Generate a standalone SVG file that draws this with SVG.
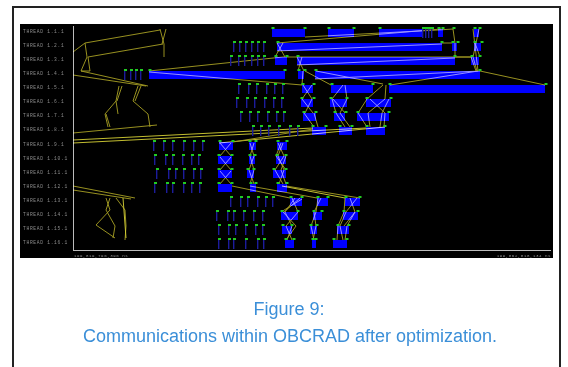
<svg xmlns="http://www.w3.org/2000/svg" width="568" height="367" viewBox="0 0 568 367">
<style>
.bar{fill:#0000ff}
.lbl{font-family:"Liberation Mono","DejaVu Sans Mono",monospace;font-size:4.6px;fill:#8e8e8e;letter-spacing:0.7px}
.tm{font-family:"Liberation Mono","DejaVu Sans Mono",monospace;font-size:4.2px;fill:#8e8e8e;letter-spacing:0.5px}
.msg{fill:none;stroke:#a8a024;stroke-width:0.9;mix-blend-mode:screen}
.hi{stroke:#d8d236}
.cap{font-family:"Liberation Sans",Arial,sans-serif;font-size:18px;fill:#3b8fd8;text-anchor:middle}
</style>
<defs>
<g id="idle"><rect x="0" y="-2" width="3" height="2" fill="#22cc22"/><rect x="0" y="0" width="1.4" height="9" fill="#1c1c9c"/></g>
<rect id="f" x="-0.5" y="-2" width="3" height="2" fill="#22cc22"/>
</defs>
<rect x="0" y="0" width="568" height="367" fill="#ffffff"/>
<path d="M13,367 V7 H560 V367" fill="none" stroke="#222" stroke-width="2"/>
<rect x="20" y="24" width="533" height="234" fill="#000"/>
<g id="axes" stroke="#bbbbbb" stroke-width="1">
<line x1="73.5" y1="26" x2="73.5" y2="251"/>
<line x1="73" y1="250.5" x2="551" y2="250.5"/>
</g>
<g id="labels">
<text class="lbl" x="23" y="32.5">THREAD 1.1.1</text>
<text class="lbl" x="23" y="46.5">THREAD 1.2.1</text>
<text class="lbl" x="23" y="60.5">THREAD 1.3.1</text>
<text class="lbl" x="23" y="74.5">THREAD 1.4.1</text>
<text class="lbl" x="23" y="88.5">THREAD 1.5.1</text>
<text class="lbl" x="23" y="102.5">THREAD 1.6.1</text>
<text class="lbl" x="23" y="116.5">THREAD 1.7.1</text>
<text class="lbl" x="23" y="130.5">THREAD 1.8.1</text>
<text class="lbl" x="23" y="145.5">THREAD 1.9.1</text>
<text class="lbl" x="23" y="159.5">THREAD 1.10.1</text>
<text class="lbl" x="23" y="173.5">THREAD 1.11.1</text>
<text class="lbl" x="23" y="187.5">THREAD 1.12.1</text>
<text class="lbl" x="23" y="201.5">THREAD 1.13.1</text>
<text class="lbl" x="23" y="215.5">THREAD 1.14.1</text>
<text class="lbl" x="23" y="229.5">THREAD 1.15.1</text>
<text class="lbl" x="23" y="243.5">THREAD 1.16.1</text>
<text class="tm" x="74" y="256.5">199,819,796,396 ns</text>
<text class="tm" x="551" y="256.5" text-anchor="end">199,862,818,134 ns</text>
</g>
<g id="bars">
<rect class="bar" x="272" y="29" width="33" height="8"/><rect class="bar" x="328" y="29" width="26" height="8"/><rect class="bar" x="379" y="29" width="43" height="8"/><rect class="bar" x="438" y="29" width="5" height="8"/><rect class="bar" x="474" y="29" width="5" height="8"/>
<rect class="bar" x="277" y="43" width="165" height="8"/><rect class="bar" x="452" y="43" width="5" height="8"/><rect class="bar" x="474" y="43" width="7" height="8"/>
<rect class="bar" x="275" y="57" width="12" height="8"/><rect class="bar" x="297" y="57" width="158" height="8"/><rect class="bar" x="471" y="57" width="8" height="8"/>
<rect class="bar" x="149" y="71" width="136" height="8"/><rect class="bar" x="298" y="71" width="6" height="8"/><rect class="bar" x="315" y="71" width="165" height="8"/>
<rect class="bar" x="302" y="85" width="11" height="8"/><rect class="bar" x="331" y="85" width="42" height="8"/><rect class="bar" x="389" y="85" width="156" height="8"/>
<rect class="bar" x="301" y="99" width="12" height="8"/><rect class="bar" x="330" y="99" width="17" height="8"/><rect class="bar" x="366" y="99" width="25" height="8"/>
<rect class="bar" x="303" y="113" width="13" height="8"/><rect class="bar" x="334" y="113" width="11" height="8"/><rect class="bar" x="357" y="113" width="32" height="8"/>
<rect class="bar" x="312" y="127" width="14" height="8"/><rect class="bar" x="339" y="127" width="13" height="8"/><rect class="bar" x="366" y="127" width="19" height="8"/>
<rect class="bar" x="219" y="142" width="14" height="8"/><rect class="bar" x="249" y="142" width="7" height="8"/><rect class="bar" x="277" y="142" width="10" height="8"/>
<rect class="bar" x="218" y="156" width="14" height="8"/><rect class="bar" x="249" y="156" width="6" height="8"/><rect class="bar" x="276" y="156" width="10" height="8"/>
<rect class="bar" x="218" y="170" width="14" height="8"/><rect class="bar" x="247" y="170" width="7" height="8"/><rect class="bar" x="273" y="170" width="13" height="8"/>
<rect class="bar" x="218" y="184" width="14" height="8"/><rect class="bar" x="250" y="184" width="6" height="8"/><rect class="bar" x="277" y="184" width="10" height="8"/>
<rect class="bar" x="290" y="198" width="12" height="8"/><rect class="bar" x="317" y="198" width="11" height="8"/><rect class="bar" x="345" y="198" width="15" height="8"/>
<rect class="bar" x="281" y="212" width="17" height="8"/><rect class="bar" x="313" y="212" width="9" height="8"/><rect class="bar" x="343" y="212" width="15" height="8"/>
<rect class="bar" x="282" y="226" width="10" height="8"/><rect class="bar" x="310" y="226" width="7" height="8"/><rect class="bar" x="337" y="226" width="12" height="8"/>
<rect class="bar" x="285" y="240" width="9" height="8"/><rect class="bar" x="312" y="240" width="4" height="8"/><rect class="bar" x="333" y="240" width="14" height="8"/>
</g>
<g id="connectors" class="msg">
<path d="M73,52 L85,43 L160,30 M85,43 L87,57 M88,57 L163,44 M160,29 L164,44 L164,57 M166,29 L162,44 M87,57 L81,71 L90,71 L88,57 M81,71 L148,86 M73,75 L146,86"/>
<path d="M119,86 L116,101 L118,114 M122,86 L117,101 M116,101 L105,114 L108,127 M106,114 L110,127 M138,86 L133,101 L148,114 L150,127 M141,86 L135,101 M73,133 L157,125"/>
<path class="hi" d="M73,140 L313,128 M73,143 L366,128 M219,143 L385,127"/>
<path d="M149,71 L283,57 M149,72 L302,85 M277,43 L441,29 M283,57 L471,57 M305,37 L438,30 M277,51 L442,44 M297,65 L455,58 M315,79 L480,71 M390,85 L478,71 M480,71 L545,85"/>
<path d="M277,43 L285,57 M283,43 L275,57 M297,57 L304,71 M302,57 L298,71 M303,71 L302,85 M305,71 L331,85 M316,71 L383,84 M303,85 L312,99 M312,85 L302,99 M302,99 L313,113 M312,99 L305,113 M304,113 L314,127 M314,113 L318,127"/>
<path d="M343,85 L332,99 L336,113 L345,127 M345,85 L347,99 L340,113 L350,127 M333,99 L345,113 M386,85 L385,99 L368,113 L370,127 M383,85 L367,99 L358,113 L367,127 M389,99 L382,113 L380,127 M370,99 L385,113 L384,127"/>
<path d="M438,30 L453,29 L455,43 L455,57 L472,57 M442,43 L452,43 M473,29 L478,71 M479,29 L473,57 L477,71 M475,43 L480,57 M471,57 L476,71"/>
<path d="M220,143 L231,156 M231,143 L220,156 M220,157 L231,170 M231,157 L220,170 M220,171 L231,184 M231,171 L220,184 M250,143 L254,156 L249,170 L254,184 M254,143 L250,156 L254,170 L250,184 M278,143 L284,156 L275,170 L283,184 M283,143 L278,156 L284,170 L279,184 M281,143 L276,156 L286,170 M286,156 L281,170 L286,184 M233,142 L313,129"/>
<path d="M232,186 L290,198 M250,186 L317,198 M286,186 L360,198 M73,186 L135,198 M73,190 L131,199"/>
<path class="hi" d="M282,186 L345,198"/>
<path d="M106,198 L110,210 L96,225 L115,238 M110,198 L106,210 L115,226 L113,238 M116,198 L125,210 L126,226 L125,240"/>
<path class="hi" d="M123,198 L124,211 L126,238"/>
<path d="M300,198 L284,212 M292,198 L298,212 L286,226 L292,240 M295,198 L285,212 L292,226 L287,240 M283,212 L296,226 L286,240 M281,212 L302,199 M318,198 L316,212 L311,226 L314,240 M321,198 L314,212 L316,226 L313,240 M345,198 L344,212 L338,226 L337,240 M357,198 L346,212 L340,226 L343,240 M350,198 L355,212 L347,226 L345,240 M355,212 L344,226"/>
</g>
<g id="idle-markers">
<use href="#idle" x="422" y="29"/><use href="#idle" x="425" y="29"/><use href="#idle" x="428" y="29"/><use href="#idle" x="431" y="29"/>
<use href="#idle" x="233" y="43"/><use href="#idle" x="239" y="43"/><use href="#idle" x="245" y="43"/><use href="#idle" x="251" y="43"/><use href="#idle" x="257" y="43"/><use href="#idle" x="263" y="43"/>
<use href="#idle" x="230" y="57"/><use href="#idle" x="238" y="57"/><use href="#idle" x="244" y="57"/><use href="#idle" x="251" y="57"/><use href="#idle" x="257" y="57"/><use href="#idle" x="263" y="57"/>
<use href="#idle" x="124" y="71"/><use href="#idle" x="130" y="71"/><use href="#idle" x="135" y="71"/><use href="#idle" x="140" y="71"/>
<use href="#idle" x="238" y="85"/><use href="#idle" x="248" y="85"/><use href="#idle" x="256" y="85"/><use href="#idle" x="266" y="85"/><use href="#idle" x="274" y="85"/><use href="#idle" x="282" y="85"/>
<use href="#idle" x="236" y="99"/><use href="#idle" x="246" y="99"/><use href="#idle" x="254" y="99"/><use href="#idle" x="264" y="99"/><use href="#idle" x="273" y="99"/><use href="#idle" x="281" y="99"/>
<use href="#idle" x="240" y="113"/><use href="#idle" x="249" y="113"/><use href="#idle" x="257" y="113"/><use href="#idle" x="267" y="113"/><use href="#idle" x="276" y="113"/><use href="#idle" x="283" y="113"/>
<use href="#idle" x="252" y="127"/><use href="#idle" x="260" y="127"/><use href="#idle" x="268" y="127"/><use href="#idle" x="278" y="127"/><use href="#idle" x="289" y="127"/><use href="#idle" x="297" y="127"/>
<use href="#idle" x="153" y="142"/><use href="#idle" x="163" y="142"/><use href="#idle" x="172" y="142"/><use href="#idle" x="183" y="142"/><use href="#idle" x="193" y="142"/><use href="#idle" x="202" y="142"/>
<use href="#idle" x="154" y="156"/><use href="#idle" x="165" y="156"/><use href="#idle" x="172" y="156"/><use href="#idle" x="182" y="156"/><use href="#idle" x="191" y="156"/><use href="#idle" x="198" y="156"/>
<use href="#idle" x="156" y="170"/><use href="#idle" x="168" y="170"/><use href="#idle" x="175" y="170"/><use href="#idle" x="183" y="170"/><use href="#idle" x="193" y="170"/><use href="#idle" x="200" y="170"/>
<use href="#idle" x="154" y="184"/><use href="#idle" x="166" y="184"/><use href="#idle" x="172" y="184"/><use href="#idle" x="183" y="184"/><use href="#idle" x="191" y="184"/><use href="#idle" x="199" y="184"/>
<use href="#idle" x="230" y="198"/><use href="#idle" x="240" y="198"/><use href="#idle" x="247" y="198"/><use href="#idle" x="257" y="198"/><use href="#idle" x="265" y="198"/><use href="#idle" x="272" y="198"/>
<use href="#idle" x="216" y="212"/><use href="#idle" x="227" y="212"/><use href="#idle" x="233" y="212"/><use href="#idle" x="243" y="212"/><use href="#idle" x="253" y="212"/><use href="#idle" x="262" y="212"/>
<use href="#idle" x="218" y="226"/><use href="#idle" x="228" y="226"/><use href="#idle" x="235" y="226"/><use href="#idle" x="245" y="226"/><use href="#idle" x="255" y="226"/><use href="#idle" x="262" y="226"/>
<use href="#idle" x="218" y="240"/><use href="#idle" x="228" y="240"/><use href="#idle" x="233" y="240"/><use href="#idle" x="245" y="240"/><use href="#idle" x="257" y="240"/><use href="#idle" x="263" y="240"/>
</g>
<g id="flags">
<use href="#f" x="272" y="29"/><use href="#f" x="304" y="29"/><use href="#f" x="328" y="29"/><use href="#f" x="353" y="29"/><use href="#f" x="379" y="29"/><use href="#f" x="438" y="29"/><use href="#f" x="442" y="29"/><use href="#f" x="453" y="29"/><use href="#f" x="474" y="29"/><use href="#f" x="479" y="29"/>
<use href="#f" x="277" y="43"/><use href="#f" x="441" y="43"/><use href="#f" x="452" y="43"/><use href="#f" x="457" y="43"/><use href="#f" x="474" y="43"/><use href="#f" x="481" y="43"/>
<use href="#f" x="275" y="57"/><use href="#f" x="286" y="57"/><use href="#f" x="297" y="57"/><use href="#f" x="454" y="57"/><use href="#f" x="471" y="57"/><use href="#f" x="479" y="57"/>
<use href="#f" x="149" y="71"/><use href="#f" x="284" y="71"/><use href="#f" x="298" y="71"/><use href="#f" x="304" y="71"/><use href="#f" x="315" y="71"/><use href="#f" x="479" y="71"/>
<use href="#f" x="302" y="85"/><use href="#f" x="313" y="85"/><use href="#f" x="331" y="85"/><use href="#f" x="372" y="85"/><use href="#f" x="389" y="85"/><use href="#f" x="545" y="85"/>
<use href="#f" x="301" y="99"/><use href="#f" x="313" y="99"/><use href="#f" x="330" y="99"/><use href="#f" x="346" y="99"/><use href="#f" x="366" y="99"/><use href="#f" x="390" y="99"/>
<use href="#f" x="303" y="113"/><use href="#f" x="315" y="113"/><use href="#f" x="334" y="113"/><use href="#f" x="345" y="113"/><use href="#f" x="357" y="113"/><use href="#f" x="388" y="113"/>
<use href="#f" x="312" y="127"/><use href="#f" x="325" y="127"/><use href="#f" x="339" y="127"/><use href="#f" x="351" y="127"/><use href="#f" x="366" y="127"/><use href="#f" x="384" y="127"/>
<use href="#f" x="219" y="142"/><use href="#f" x="232" y="142"/><use href="#f" x="249" y="142"/><use href="#f" x="255" y="142"/><use href="#f" x="277" y="142"/><use href="#f" x="286" y="142"/>
<use href="#f" x="218" y="156"/><use href="#f" x="231" y="156"/><use href="#f" x="249" y="156"/><use href="#f" x="254" y="156"/><use href="#f" x="276" y="156"/><use href="#f" x="285" y="156"/>
<use href="#f" x="218" y="170"/><use href="#f" x="231" y="170"/><use href="#f" x="247" y="170"/><use href="#f" x="253" y="170"/><use href="#f" x="273" y="170"/><use href="#f" x="285" y="170"/>
<use href="#f" x="218" y="184"/><use href="#f" x="231" y="184"/><use href="#f" x="250" y="184"/><use href="#f" x="255" y="184"/><use href="#f" x="277" y="184"/><use href="#f" x="286" y="184"/>
<use href="#f" x="290" y="198"/><use href="#f" x="301" y="198"/><use href="#f" x="317" y="198"/><use href="#f" x="327" y="198"/><use href="#f" x="345" y="198"/><use href="#f" x="359" y="198"/>
<use href="#f" x="281" y="212"/><use href="#f" x="297" y="212"/><use href="#f" x="313" y="212"/><use href="#f" x="321" y="212"/><use href="#f" x="343" y="212"/><use href="#f" x="357" y="212"/>
<use href="#f" x="282" y="226"/><use href="#f" x="291" y="226"/><use href="#f" x="310" y="226"/><use href="#f" x="316" y="226"/><use href="#f" x="337" y="226"/><use href="#f" x="348" y="226"/>
<use href="#f" x="285" y="240"/><use href="#f" x="293" y="240"/><use href="#f" x="312" y="240"/><use href="#f" x="315" y="240"/><use href="#f" x="333" y="240"/><use href="#f" x="346" y="240"/>
</g>
<g id="caption">
<text class="cap" x="289" y="315">Figure 9:</text>
<text class="cap" x="290" y="342">Communications within OBCRAD after optimization.</text>
</g>
</svg>
